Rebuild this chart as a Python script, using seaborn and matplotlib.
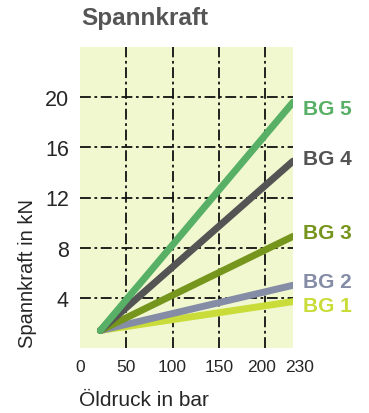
import numpy as np
import pandas as pd
import matplotlib
matplotlib.use('Agg')
import matplotlib.pyplot as plt
import matplotlib.transforms as mtransforms
import seaborn as sns

# data
druck = [22, 230]
bg1 = [1.4, 3.7]
bg2 = [1.4, 5.0]
bg3 = [1.4, 8.9]
bg4 = [1.4, 14.9]
bg5 = [1.4, 19.6]
groups = ['BG 1', 'BG 2', 'BG 3', 'BG 4', 'BG 5']
label_y = [3.4, 5.3, 9.2, 15.1, 19.1]
colors = ['#c9dc3a', '#848ca6', '#76951c', '#545454', '#58b066']

df = pd.DataFrame({
    'druck': druck * 5,
    'kraft': bg1 + bg2 + bg3 + bg4 + bg5,
    'bg': [g for g in groups for _ in druck],
})

sns.set_style('white')
plt.rcParams['font.family'] = ['Liberation Sans', 'DejaVu Sans']

fig = plt.figure(figsize=(3.69, 4.14), dpi=100)
ax = fig.add_axes([80/369, 1-349/414, 213/369, 301/414])
ax.set_facecolor('#f1f8cf')

sns.lineplot(data=df, x='druck', y='kraft', hue='bg', palette=colors,
             linewidth=5, legend=False, ax=ax, zorder=3)

ax.set_xlim(0, 230)
ax.set_ylim(0, 24)
ax.set_xticks([0, 50, 100, 150, 200, 230])
ax.set_xticklabels(['0', '50', '100', '150', '200', '230'], fontsize=12.5)
ax.set_yticks([4, 8, 12, 16, 20])
ax.set_yticklabels(['4', '8', '12', '16', '20'], fontsize=15.5)
ax.tick_params(length=0, pad=8)
ax.xaxis.grid(False)
for v in [50, 100, 150, 200]:
    ax.axvline(v, color='#111111', lw=1.3, ls=(0, (6, 2, 1.5, 2)), zorder=1)
for v in [4, 8, 12, 16, 20]:
    ax.axhline(v, color='#111111', lw=1.3, ls=(0, (6, 2, 1.5, 2)), zorder=1)
for s in ax.spines.values():
    s.set_visible(False)

# nudge the last two x tick labels apart like in the original
xl = ax.get_xticklabels()
xl[-1].set_transform(xl[-1].get_transform() + mtransforms.ScaledTranslation(7/100, 0, fig.dpi_scale_trans))
xl[-2].set_transform(xl[-2].get_transform() + mtransforms.ScaledTranslation(-4/100, 0, fig.dpi_scale_trans))

ax.set_xlabel('Öldruck in bar', fontsize=15)
ax.xaxis.set_label_coords(0.30, -0.138)
ax.set_ylabel('Spannkraft in kN', fontsize=14.5)
ax.yaxis.set_label_coords(-0.202, 0.25)

for g, y, c in zip(groups, label_y, colors):
    ax.text(241, y, g, color=c, fontsize=15, fontweight='bold',
            va='center', ha='left', clip_on=False)

fig.text(81/369, 1-19/414, 'Spannkraft', fontsize=17.5, fontweight='bold',
         color='#555555', va='center', ha='left')

fig.savefig('out.png', dpi=100)
